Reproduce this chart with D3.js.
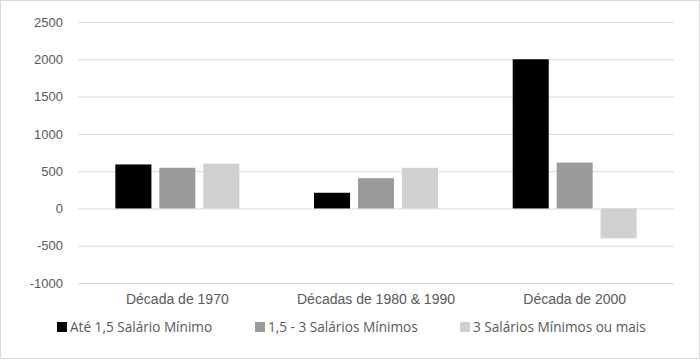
<!DOCTYPE html>
<html>
<head>
<meta charset="utf-8">
<script src="https://cdn.jsdelivr.net/npm/d3@7"></script>
<style>
  body { margin: 0; background: #fff; }
  svg { display: block; font-family: "Open Sans", "Noto Sans", sans-serif; }
</style>
</head>
<body>
<svg></svg>
<script>
const width = 700;
const height = 362;

const categories = ['Década de 1970', 'Décadas de 1980 & 1990', 'Década de 2000'];
const seriesNames = ['Até 1,5 Salário Mínimo', '1,5 - 3 Salários Mínimos', '3 Salários Mínimos ou mais'];
const ate15 = [590, 210, 2000];
const de15a3 = [545, 405, 615];
const tresOuMais = [600, 545, -400];
const yTicks = [-1000, -500, 0, 500, 1000, 1500, 2000, 2500];
const colors = ['#000000', '#9b9b9b', '#d0d0d0'];

const seriesValues = [ate15, de15a3, tresOuMais];
const rows = categories.map((c, i) => ({
  cat: c,
  vals: seriesValues.map((s, j) => ({ key: seriesNames[j], value: s[i], idx: j }))
}));

const svg = d3.select('svg')
  .attr('width', width)
  .attr('height', height);

// outer frame
svg.append('rect')
  .attr('x', 0.5).attr('y', 0.5)
  .attr('width', width - 1).attr('height', height - 4)
  .attr('fill', '#fff')
  .attr('stroke', '#d9d9d9');

const left = 78, right = 674;

const x0 = d3.scaleBand()
  .domain(categories)
  .range([left, right])
  .paddingInner(0.376)
  .paddingOuter(0.188);

const x1 = d3.scaleBand()
  .domain(seriesNames)
  .range([0, x0.bandwidth()])
  .paddingInner(0.18);

const y = d3.scaleLinear()
  .domain([-1000, 2500])
  .range([283, 22]);

const yAxis = d3.axisLeft(y)
  .tickValues(yTicks)
  .tickSize(-(right - left))
  .tickPadding(15)
  .tickFormat(d => String(d));

const gy = svg.append('g')
  .attr('transform', `translate(${left}, 0)`)
  .call(yAxis);
gy.select('.domain').remove();
gy.selectAll('line').attr('stroke', '#d9d9d9');
gy.selectAll('text')
  .attr('fill', '#595959')
  .style('font-size', '13px');

svg.append('g')
  .selectAll('g')
  .data(rows)
  .enter()
  .append('g')
    .attr('transform', d => `translate(${x0(d.cat)}, 0)`)
  .selectAll('rect')
  .data(d => d.vals)
  .enter()
  .append('rect')
    .attr('x', d => x1(d.key))
    .attr('y', d => y(Math.max(0, d.value)))
    .attr('width', x1.bandwidth())
    .attr('height', d => Math.abs(y(d.value) - y(0)))
    .attr('fill', d => colors[d.idx]);

const xAxis = d3.axisBottom(x0).tickSize(0).tickPadding(11);
const gx = svg.append('g')
  .attr('transform', `translate(0, 283)`)
  .call(xAxis);
gx.select('.domain').remove();
gx.selectAll('text')
  .attr('fill', '#595959')
  .style('font-size', '14px');

// legend
const legendX = [57, 255, 460];
const legend = svg.append('g')
  .selectAll('g')
  .data(seriesNames)
  .enter()
  .append('g')
    .attr('transform', (d, i) => `translate(${legendX[i]}, 327)`);
legend.append('rect')
  .attr('x', 0).attr('y', -5)
  .attr('width', 10).attr('height', 10)
  .attr('fill', (d, i) => colors[i]);
legend.append('text')
  .attr('x', 13)
  .attr('dy', '0.35em')
  .attr('fill', '#595959')
  .style('font-size', '13.6px')
  .text(d => d);
</script>
</body>
</html>
